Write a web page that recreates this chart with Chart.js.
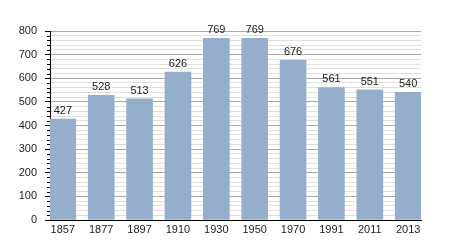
<!DOCTYPE html>
<html>
<head>
<meta charset="utf-8">
<script src="https://cdn.jsdelivr.net/npm/chart.js@4"></script>
<style>
html,body{margin:0;padding:0;background:#fff;}
#wrap{width:450px;height:250px;}
</style>
</head>
<body>
<div id="wrap"><canvas id="c" width="450" height="250"></canvas></div>
<script>
const years = ["1857","1877","1897","1910","1930","1950","1970","1991","2011","2013"];
const population = [427,528,513,626,769,769,676,561,551,540];
const yTicks = [0,100,200,300,400,500,600,700,800];

const FONT = "'Liberation Sans', Arial, sans-serif";

const valueLabels = {
  id: 'valueLabels',
  afterDatasetsDraw(chart) {
    const ctx = chart.ctx;
    const meta = chart.getDatasetMeta(0);
    ctx.save();
    ctx.font = "11px " + FONT;
    ctx.fillStyle = "#222";
    ctx.textAlign = "center";
    ctx.textBaseline = "alphabetic";
    meta.data.forEach((bar, i) => {
      ctx.fillText(String(population[i]), bar.x, bar.y - 5);
    });
    ctx.restore();
  }
};

const minorTicks = {
  id: 'minorTicks',
  afterDraw(chart) {
    const y = chart.scales.y;
    const ctx = chart.ctx;
    ctx.save();
    ctx.strokeStyle = "#000";
    ctx.lineWidth = 1;
    y.ticks.forEach(t => {
      if (t.value % 100 !== 0) {
        const py = Math.round(y.getPixelForValue(t.value)) + 0.5;
        ctx.beginPath();
        ctx.moveTo(y.right - 3, py);
        ctx.lineTo(y.right, py);
        ctx.stroke();
      }
    });
    ctx.restore();
  }
};

new Chart(document.getElementById('c'), {
  type: 'bar',
  data: {
    datasets: [{
      data: population.map((v, i) => ({x: i, y: v})),
      backgroundColor: '#95aecb',
      borderWidth: 0,
      barThickness: 26
    }]
  },
  options: {
    responsive: false,
    animation: false,
    layout: { padding: { top: 31, right: 29, left: 0, bottom: 0 } },
    plugins: { legend: { display: false }, tooltip: { enabled: false } },
    scales: {
      x: {
        type: 'linear',
        offset: false,
        min: -0.334,
        max: years.length - 1 + 0.334,
        afterBuildTicks(scale) { scale.ticks = years.map((_, i) => ({value: i})); },
        afterFit(scale) { scale.height = 30; },
        grid: { display: false, drawTicks: false, offset: false },
        border: { display: true, color: '#000', width: 1 },
        ticks: {
          autoSkip: false,
          maxRotation: 0,
          padding: 3,
          color: '#222',
          font: { family: FONT, size: 11 },
          callback: (v) => years[v]
        }
      },
      y: {
        min: 0,
        max: 800,
        afterFit(scale) { scale.width = 50; },
        ticks: {
          stepSize: 20,
          autoSkip: false,
          padding: 8,
          color: '#222',
          font: { family: FONT, size: 11 },
          callback: (v) => (yTicks.includes(v) ? String(v) : '')
        },
        grid: {
          tickLength: 5,
          color: (c) => (c.tick && c.tick.value % 100 === 0 ? '#a8a8a8' : '#e0e0e0'),
          tickColor: (c) => (c.tick && c.tick.value % 100 === 0 ? '#000' : 'rgba(0,0,0,0)')
        },
        border: { display: true, color: '#000', width: 1 }
      }
    }
  },
  plugins: [valueLabels, minorTicks]
});
</script>
</body>
</html>
